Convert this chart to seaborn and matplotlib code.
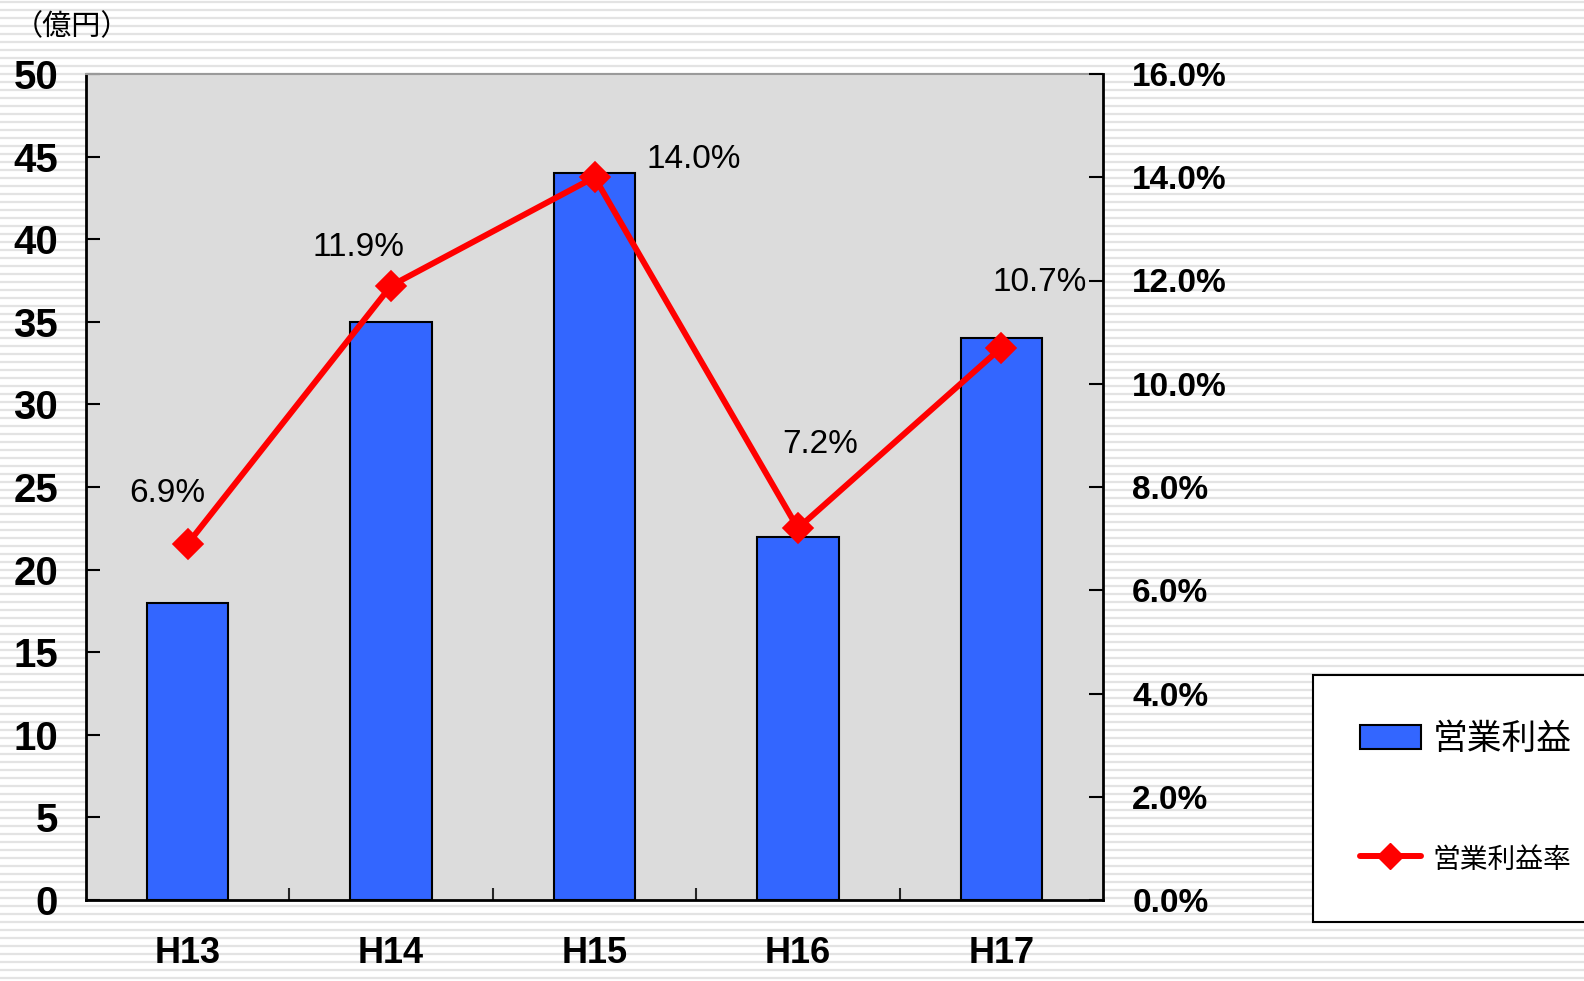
import numpy as np
import pandas as pd
import matplotlib
matplotlib.use("Agg")
import matplotlib.pyplot as plt
import seaborn as sns
from matplotlib.patches import Patch
from matplotlib.lines import Line2D

# data
years = ["H13", "H14", "H15", "H16", "H17"]
profit = [18, 35, 44, 22, 34]            # 営業利益 (億円)
margin = [6.9, 11.9, 14.0, 7.2, 10.7]    # 営業利益率 (%)
margin_labels = ["6.9%", "11.9%", "14.0%", "7.2%", "10.7%"]
# label offsets from each point, in pixels
label_offsets = [(-20, 50), (-33, 38), (99, 18), (22, 84), (38, 65)]

df = pd.DataFrame({"year": years, "profit": profit, "margin": margin})

sns.set_theme(style="white")
plt.rcParams["font.family"] = ["Liberation Sans", "Noto Sans CJK JP", "DejaVu Sans"]
plt.rcParams["text.color"] = "black"
cjk = ["Noto Sans CJK JP", "DejaVu Sans"]

fig = plt.figure(figsize=(15.84, 9.81), dpi=100)
fig.patch.set_facecolor("white")

# striped background
bg = fig.add_axes([0, 0, 1, 1], zorder=0)
bg.set_xlim(0, 1)
bg.set_ylim(981, 0)
bg.hlines(np.arange(2, 981, 8), 0, 1, color="#e3e3e3", lw=1.6)
bg.axis("off")

ax = fig.add_axes([86 / 1584, 1 - 900 / 981, 1017 / 1584, 826 / 981], zorder=1)
ax.set_facecolor("#dcdcdc")
sns.barplot(data=df, x="year", y="profit", color="#3366ff", saturation=1,
            width=0.4, edgecolor="black", linewidth=1.5, ax=ax)
ax.set_xlim(-0.5, 4.5)
ax.set_ylim(0, 50)
ax.set_yticks(range(0, 51, 5))
ax.set_xlabel("")
ax.set_ylabel("")
ax.set_xticks(np.arange(0.5, 4, 1), minor=True)
ax.tick_params(axis="y", direction="in", length=10, width=1.5, labelsize=29,
               pad=20, colors="black")
ax.tick_params(axis="x", which="major", length=0, labelsize=26, pad=26,
               colors="black")
ax.tick_params(axis="x", which="minor", direction="in", length=9, width=1.5,
               bottom=True)
for lab in ax.get_xticklabels():
    lab.set_fontweight("bold")
for lab in ax.get_yticklabels():
    lab.set_fontweight("bold")
for s in ["left", "bottom"]:
    ax.spines[s].set_color("black")
    ax.spines[s].set_linewidth(2)
ax.spines["top"].set_color("#9a9a9a")
ax.spines["top"].set_linewidth(1.5)
ax.spines["right"].set_visible(False)

ax2 = ax.twinx()
sns.pointplot(data=df, x="year", y="margin", color="#ff0000", markers="D",
              markersize=13, linewidth=4.3, ax=ax2)
ax2.set_xlim(-0.5, 4.5)
ax2.set_ylim(0, 16)
ax2.set_yticks(np.arange(0, 16.1, 2))
ax2.set_yticklabels([f"{v:.1f}%" for v in np.arange(0, 16.1, 2)])
ax2.set_ylabel("")
ax2.set_xlabel("")
ax2.tick_params(axis="y", direction="in", length=10, width=1.5, labelsize=24,
                pad=21, colors="black")
for lab in ax2.get_yticklabels():
    lab.set_fontweight("bold")
for s in ["left", "top", "bottom"]:
    ax2.spines[s].set_visible(False)
ax2.spines["right"].set_color("black")
ax2.spines["right"].set_linewidth(2)

for i, (v, txt) in enumerate(zip(margin, margin_labels)):
    dx, dy = label_offsets[i]
    ax2.annotate(txt, (i, v), xytext=(dx, dy), textcoords="offset pixels",
                 ha="center", va="center", fontsize=24, color="black")

fig.text(14 / 1584, 1 - 27 / 981, "（億円）", family=cjk, fontsize=21,
         ha="left", va="center", color="black")

# legend
handles = [Patch(facecolor="#3366ff", edgecolor="black", linewidth=1.5),
           Line2D([0], [0], color="#ff0000", lw=4.3, marker="D", markersize=13)]
leg = fig.legend(handles, ["営業利益", "営業利益率"], loc="upper left",
                 bbox_to_anchor=(1313 / 1584, 1 - 675 / 981),
                 prop={"family": cjk, "size": 25}, frameon=True,
                 fancybox=False, edgecolor="black", framealpha=1,
                 borderpad=1.35, labelspacing=2.5, handlelength=1.75,
                 handletextpad=0.35, borderaxespad=0)
leg.get_frame().set_linewidth(1.5)
leg.get_texts()[1].set_fontsize(20)
for t in leg.get_texts():
    t.set_color("black")

fig.savefig("out.png", dpi=100)
